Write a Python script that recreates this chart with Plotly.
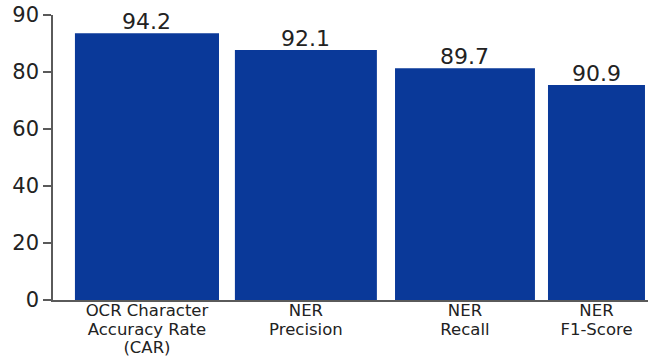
import plotly.graph_objects as go

categories = ["OCR Character<br>Accuracy Rate<br>(CAR)", "NER<br>Precision", "NER<br>Recall", "NER<br>F1-Score"]
bar_heights = [93.6, 87.7, 81.3, 75.4]
value_labels = ["94.2", "92.1", "89.7", "90.9"]
y_tick_values = [0, 20, 40, 60, 80, 100]
y_tick_labels = ["0", "20", "40", "60", "80", "90"]

x_pos = list(range(len(categories)))
bar_widths = [0.906, 0.893, 0.88, 0.61]
bar_offsets = [-0.453, -0.447, -0.44, -0.478]
label_pos = [x + o + w / 2 for x, o, w in zip(x_pos, bar_offsets, bar_widths)]

FONT = "DejaVu Sans"
TEXT = "#222222"
AXIS = "#5a5a5a"
BAR = "#0a3999"


def wrap(label, size=16.5):
    return "<br>".join(
        '<span style="font-size:%spx">%s</span>' % (size, part) for part in label.split("<br>")
    )


fig = go.Figure(
    go.Bar(
        x=x_pos,
        y=bar_heights,
        width=bar_widths,
        offset=bar_offsets,
        marker=dict(color=BAR, line=dict(width=0)),
        cliponaxis=False,
        hoverinfo="skip",
    )
)

for xp, h, lab in zip(label_pos, bar_heights, value_labels):
    fig.add_annotation(
        x=xp, y=h, xref="x", yref="y",
        text=lab, showarrow=False,
        xanchor="center", yanchor="bottom", yshift=-3,
        font=dict(family=FONT, size=22, color=TEXT),
    )

fig.update_layout(
    width=648,
    height=358,
    margin=dict(l=53, r=0, t=15, b=58, autoexpand=False),
    paper_bgcolor="white",
    plot_bgcolor="white",
    showlegend=False,
    font=dict(family=FONT, color=TEXT),
)

fig.update_yaxes(
    range=[0, 100],
    tickvals=y_tick_values,
    ticktext=y_tick_labels,
    ticks="outside",
    ticklen=8,
    tickwidth=1.5,
    tickcolor=AXIS,
    showline=True,
    linecolor=AXIS,
    linewidth=1.5,
    showgrid=False,
    zeroline=False,
    tickfont=dict(family=FONT, size=21, color=TEXT),
    automargin=False,
)

fig.update_xaxes(
    range=[-0.591, 3.151],
    tickvals=label_pos,
    ticktext=[wrap(c) for c in categories],
    ticks="",
    showline=True,
    linecolor=AXIS,
    linewidth=1.5,
    showgrid=False,
    zeroline=False,
    tickfont=dict(family=FONT, size=14.3, color=TEXT),
    ticklabelstandoff=-3,
    automargin=False,
)

fig.write_html("out.html")
